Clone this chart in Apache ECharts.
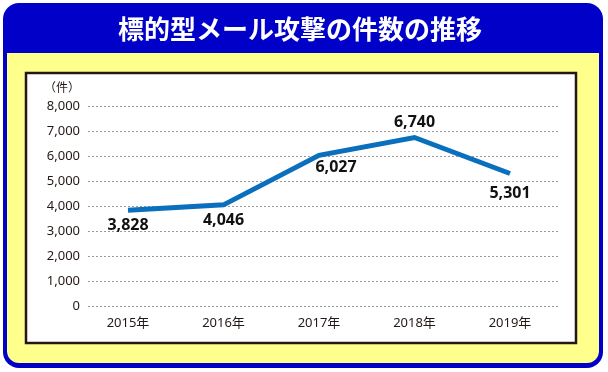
<!DOCTYPE html>
<html>
<head>
<meta charset="utf-8">
<script src="https://cdn.jsdelivr.net/npm/echarts@6/dist/echarts.min.js"></script>
<style>
html,body{margin:0;padding:0;background:#fff;}
#c{width:608px;height:372px;}
</style>
</head>
<body>
<div id="c"></div>
<script>
const titleText = '標的型メール攻撃の件数の推移';
const unitLabel = '（件）';
const categories = ['2015年', '2016年', '2017年', '2018年', '2019年'];
const values = [3828, 4046, 6027, 6740, 5301];
const yMin = 0, yMax = 8000, yStep = 1000;

const labelPos = [
  {position: 'bottom', offset: [0, 0]},
  {position: 'bottom', offset: [0, 0]},
  {position: 'bottom', offset: [17, -3]},
  {position: 'top', offset: [0, 0]},
  {position: 'bottom', offset: [0, 4]}
];

const chart = echarts.init(document.getElementById('c'), null, {renderer: 'canvas'});
const fontUI = '"Noto Sans", "Noto Sans CJK JP", sans-serif';

chart.setOption({
  animation: false,
  backgroundColor: 'transparent',
  graphic: [
    {type: 'rect', shape: {x: 3, y: 3, width: 600, height: 365, r: 16}, style: {fill: '#0000c8'}, z: -10},
    {type: 'rect', shape: {x: 7, y: 53, width: 592, height: 310, r: [0, 0, 12, 12]}, style: {fill: '#ffff8c'}, z: -9},
    {type: 'rect', shape: {x: 26, y: 73, width: 550, height: 270}, style: {fill: '#ffffff', stroke: '#231815', lineWidth: 2.5}, z: -8},
    {type: 'text', x: 300, y: 29, style: {text: titleText, fill: '#ffffff', font: 'bold 26px "Noto Sans CJK JP", sans-serif', textAlign: 'center', textVerticalAlign: 'middle'}, z: 10},
    {type: 'text', x: 62, y: 87, style: {text: unitLabel, fill: '#231815', font: '12px "Noto Sans CJK JP", sans-serif', textAlign: 'center', textVerticalAlign: 'middle'}, z: 10}
  ],
  grid: [
    {left: 88, right: 50, top: 106, bottom: 66},
    {left: 128, right: 98, top: 106, bottom: 66}
  ],
  xAxis: [
    {gridIndex: 0, type: 'category', data: categories, show: false},
    {gridIndex: 1, type: 'category', data: categories, boundaryGap: false,
      axisLine: {show: false}, axisTick: {show: false}, splitLine: {show: false},
      axisLabel: {color: '#231815', fontSize: 13, margin: 11, fontFamily: fontUI}}
  ],
  yAxis: [
    {gridIndex: 0, type: 'value', min: yMin, max: yMax, interval: yStep,
      axisLine: {show: false}, axisTick: {show: false},
      splitLine: {show: true, lineStyle: {color: '#9a9a9a', width: 1, type: [2, 2]}},
      axisLabel: {color: '#231815', fontSize: 13, margin: 8, fontFamily: fontUI,
        formatter: v => v.toLocaleString('en-US')}},
    {gridIndex: 1, type: 'value', min: yMin, max: yMax, interval: yStep, show: false, splitLine: {show: false}}
  ],
  series: [{
    type: 'line',
    xAxisIndex: 1, yAxisIndex: 1,
    data: values.map((v, i) => ({
      value: v,
      label: {show: true, position: labelPos[i].position, offset: labelPos[i].offset, distance: 7}
    })),
    symbol: 'circle',
    symbolSize: 1,
    showSymbol: true,
    itemStyle: {color: 'rgba(0,0,0,0)', borderWidth: 0},
    lineStyle: {color: '#0a6fbd', width: 5, cap: 'butt', join: 'miter'},
    label: {show: true, color: '#111', fontSize: 16, fontWeight: 'bold', fontFamily: fontUI,
      formatter: p => p.value.toLocaleString('en-US')},
    z: 5
  }]
});
</script>
</body>
</html>
